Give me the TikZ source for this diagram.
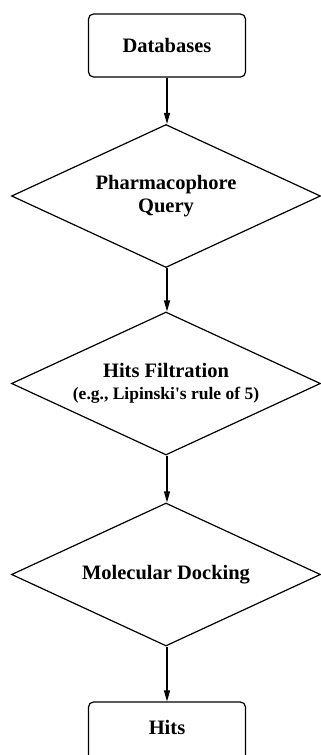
\documentclass[tikz,border=0pt]{standalone}
\usepackage{fontspec}
\setmainfont{Liberation Serif}[Ligatures=TeXOff]
\usetikzlibrary{shapes.geometric,arrows.meta}
\tikzset{
  flowbox/.style={draw, rounded corners=5pt, minimum width=157pt, minimum height=63pt, inner sep=0pt, line width=1.2pt},
  decision/.style={draw, diamond, shape aspect=2.16, minimum width=309pt, minimum height=143pt, inner sep=0pt, line width=1.2pt, align=center},
  flowarrow/.style={line width=1.2pt, -{Triangle[length=11pt,width=6pt]}},
  every node/.style={font=\fontsize{20.5}{23.5}\selectfont\bfseries}
}
\begin{document}
\begin{tikzpicture}[x=1pt,y=-1pt]
  \useasboundingbox (0,0) rectangle (321,755);
  \clip (0,0) rectangle (321,755);
  \fill[white] (0,0) rectangle (321,755);
  \node[flowbox] (db) at (167,45.5) {Databases};
  \node[decision] (pq) at (166,196) {Pharmacophore\\Query};
  \node[decision] (hf) at (166,383.5) {Hits Filtration\\[-2pt]{\fontsize{17.5}{19}\selectfont (e.g., Lipinski's rule of 5)}};
  \node[decision] (md) at (166,574.5) {Molecular Docking};
  \node[flowbox, text depth=12pt] (hits) at (167,733.5) {Hits};
  \draw[flowarrow] (db.south) -- (db.south |- pq.north);
  \draw[flowarrow] (pq.south -| db.south) -- (db.south |- hf.north);
  \draw[flowarrow] (hf.south -| db.south) -- (db.south |- md.north);
  \draw[flowarrow] (md.south -| db.south) -- (hits.north);
\end{tikzpicture}
\end{document}
